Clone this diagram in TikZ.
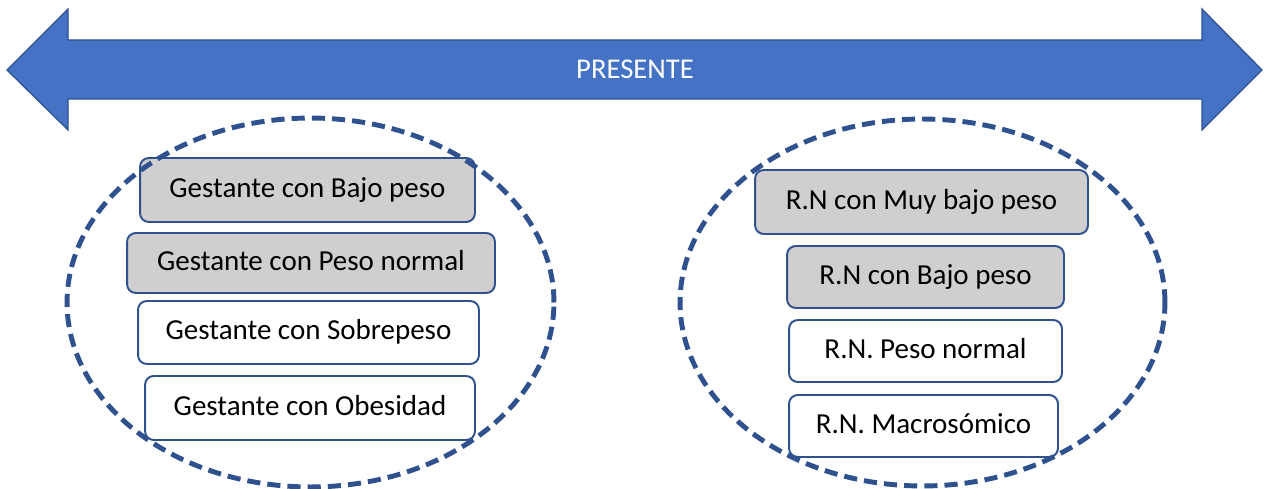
\documentclass[tikz,border=0pt]{standalone}
\usepackage{fontspec}
\setmainfont{Carlito}
\usetikzlibrary{shapes.geometric}
\definecolor{flecha}{HTML}{4472C4}
\definecolor{borde}{HTML}{2F528F}
\definecolor{gris}{HTML}{D0CECE}
\begin{document}
\begin{tikzpicture}[x=0.02cm,y=-0.02cm,
        caja/.style={draw=borde,line width=1.1pt,rounded corners=5pt,fill=white,inner sep=0pt,text height=1.0em,text depth=0.16em,font=\fontsize{16.5}{20}\selectfont},
        cajagris/.style={caja,fill=gris},
        ovalo/.style={ellipse,draw=borde,line width=2.8pt,dash pattern=on 7.5pt off 4pt,inner sep=0pt}]
    \useasboundingbox (0,0) rectangle (1264,489);
    \draw[draw=borde,fill=flecha,line width=0.7pt] (7,70) -- (68,9) -- (68,40) -- (1202,40) -- (1202,9) -- (1262,70) -- (1202,130) -- (1202,99) -- (68,99) -- (68,130) -- cycle;
    \node[text=white,inner sep=0pt,text height=1.0em,text depth=0.16em,font=\fontsize{16.3}{20}\selectfont] (presente) at (635,71) {PRESENTE};
    \node[cajagris,minimum width=6.7cm,minimum height=1.28cm] (gbajo) at (307.5,190) {Gestante con Bajo peso};
    \node[cajagris,minimum width=7.36cm,minimum height=1.2cm] (gnormal) at (311,263) {Gestante con Peso normal};
    \node[caja,minimum width=6.82cm,minimum height=1.26cm] (gsobre) at (308.5,332.5) {Gestante con Sobrepeso};
    \node[caja,minimum width=6.6cm,minimum height=1.28cm] (gobes) at (310,408) {Gestante con Obesidad};
    \node[cajagris,minimum width=6.66cm,minimum height=1.28cm] (rnmuy) at (921.5,202) {R.N con Muy bajo peso};
    \node[cajagris,minimum width=5.54cm,minimum height=1.24cm] (rnbajo) at (925.5,277) {R.N con Bajo peso};
    \node[caja,minimum width=5.46cm,minimum height=1.24cm] (rnnormal) at (925.5,351) {R.N. Peso normal};
    \node[caja,minimum width=5.38cm,minimum height=1.24cm] (rnmacro) at (923.5,426) {R.N. Macrosómico};
    \node[ovalo,minimum width=9.74cm,minimum height=7.38cm] (gestantes) at (310.5,302.5) {};
    \node[ovalo,minimum width=9.7cm,minimum height=7.34cm] (recien) at (922.5,302.5) {};
\end{tikzpicture}
\end{document}
